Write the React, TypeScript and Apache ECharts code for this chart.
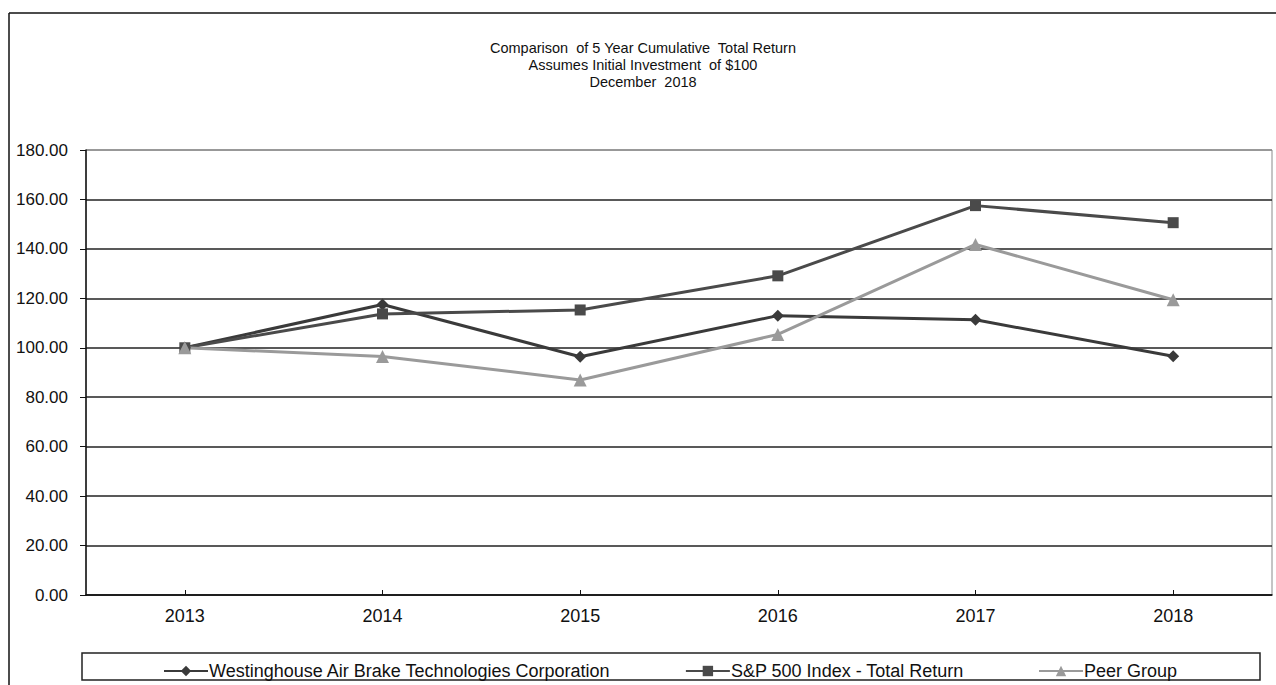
import React, { useEffect, useRef } from "react";
import * as echarts from "echarts";

const years = ["2013", "2014", "2015", "2016", "2017", "2018"];
const wabtec = [100.0, 117.5, 96.4, 113.0, 111.3, 96.6];
const sp500 = [100.0, 113.7, 115.3, 129.1, 157.5, 150.6];
const peer = [100.0, 96.5, 87.0, 105.4, 141.8, 119.4];
const yTicks = { min: 0, max: 180, interval: 20 };
const titleLines = [
  "Comparison  of 5 Year Cumulative  Total Return",
  "Assumes Initial Investment  of $100",
  "December  2018",
];
const seriesNames = [
  "Westinghouse Air Brake Technologies Corporation",
  "S&P 500 Index - Total Return",
  "Peer Group",
];

const FONT = "'Liberation Sans', Arial, sans-serif";

export default function App() {
  const ref = useRef<HTMLDivElement>(null);
  useEffect(() => {
    if (!ref.current) return;
    const chart = echarts.init(ref.current, null, { renderer: "svg" });
    const splitColors = [
      "#222", "#222", "#222", "#222", "#222", "#222", "#222", "#222", "#222", "#8a8a8a",
    ];
    chart.setOption({
      animation: false,
      backgroundColor: "#ffffff",
      textStyle: { fontFamily: FONT },
      title: {
        text: titleLines.join("\n"),
        left: 638,
        textAlign: "center",
        top: 34,
        textStyle: {
          fontFamily: FONT,
          fontSize: 14.5,
          fontWeight: "normal",
          color: "#111",
          lineHeight: 17,
        },
      },
      grid: {
        left: 86,
        right: 4,
        top: 150,
        bottom: 90,
        show: true,
        borderColor: "#8a8a8a",
        borderWidth: 1,
        backgroundColor: "transparent",
      },
      legend: {
        left: 158,
        top: 657,
        itemGap: 74,
        itemWidth: 44,
        itemHeight: 13,
        textStyle: { fontFamily: FONT, fontSize: 18, color: "#111", padding: [0, 0, 0, -4] },
        data: seriesNames,
      },
      xAxis: {
        type: "category",
        data: years,
        boundaryGap: true,
        axisLine: { lineStyle: { color: "#111", width: 1.5 } },
        axisTick: { show: true, inside: true, length: 5, alignWithLabel: true, interval: 0, lineStyle: { color: "#111" } },
        axisLabel: { fontFamily: FONT, fontSize: 18, color: "#111", margin: 12 },
        splitLine: { show: false },
      },
      yAxis: {
        type: "value",
        min: yTicks.min,
        max: yTicks.max,
        interval: yTicks.interval,
        axisLine: { show: true, lineStyle: { color: "#111", width: 1.5 } },
        axisTick: { show: true, inside: false, length: 6, lineStyle: { color: "#111" } },
        axisLabel: {
          fontFamily: FONT,
          fontSize: 17,
          color: "#111",
          margin: 18,
          formatter: (v: number) => v.toFixed(2),
        },
        splitLine: { show: true, lineStyle: { color: splitColors, width: 1.5 } },
      },
      graphic: [
        {
          type: "line",
          shape: { x1: 9, y1: 13, x2: 1276, y2: 13 },
          style: { stroke: "#111", lineWidth: 1.5 },
        },
        {
          type: "line",
          shape: { x1: 9, y1: 13, x2: 9, y2: 685 },
          style: { stroke: "#111", lineWidth: 1.5 },
        },
        {
          type: "rect",
          shape: { x: 82, y: 653, width: 1178, height: 27 },
          style: { fill: "none", stroke: "#222", lineWidth: 1.5 },
        },
      ],
      series: [
        {
          name: seriesNames[0],
          type: "line",
          data: wabtec,
          symbol: "diamond",
          symbolSize: 12,
          lineStyle: { color: "#3a3a3a", width: 3 },
          itemStyle: { color: "#3a3a3a" },
        },
        {
          name: seriesNames[1],
          type: "line",
          data: sp500,
          symbol: "rect",
          symbolSize: 11,
          lineStyle: { color: "#4a4a4a", width: 3 },
          itemStyle: { color: "#4a4a4a" },
        },
        {
          name: seriesNames[2],
          type: "line",
          data: peer,
          symbol: "triangle",
          symbolSize: 13,
          lineStyle: { color: "#9a9a9a", width: 3 },
          itemStyle: { color: "#9a9a9a" },
        },
      ],
    });
    return () => chart.dispose();
  }, []);
  return (
    <div
      ref={ref}
      style={{ position: "fixed", left: 0, top: 0, width: 1276, height: 685 }}
    />
  );
}
